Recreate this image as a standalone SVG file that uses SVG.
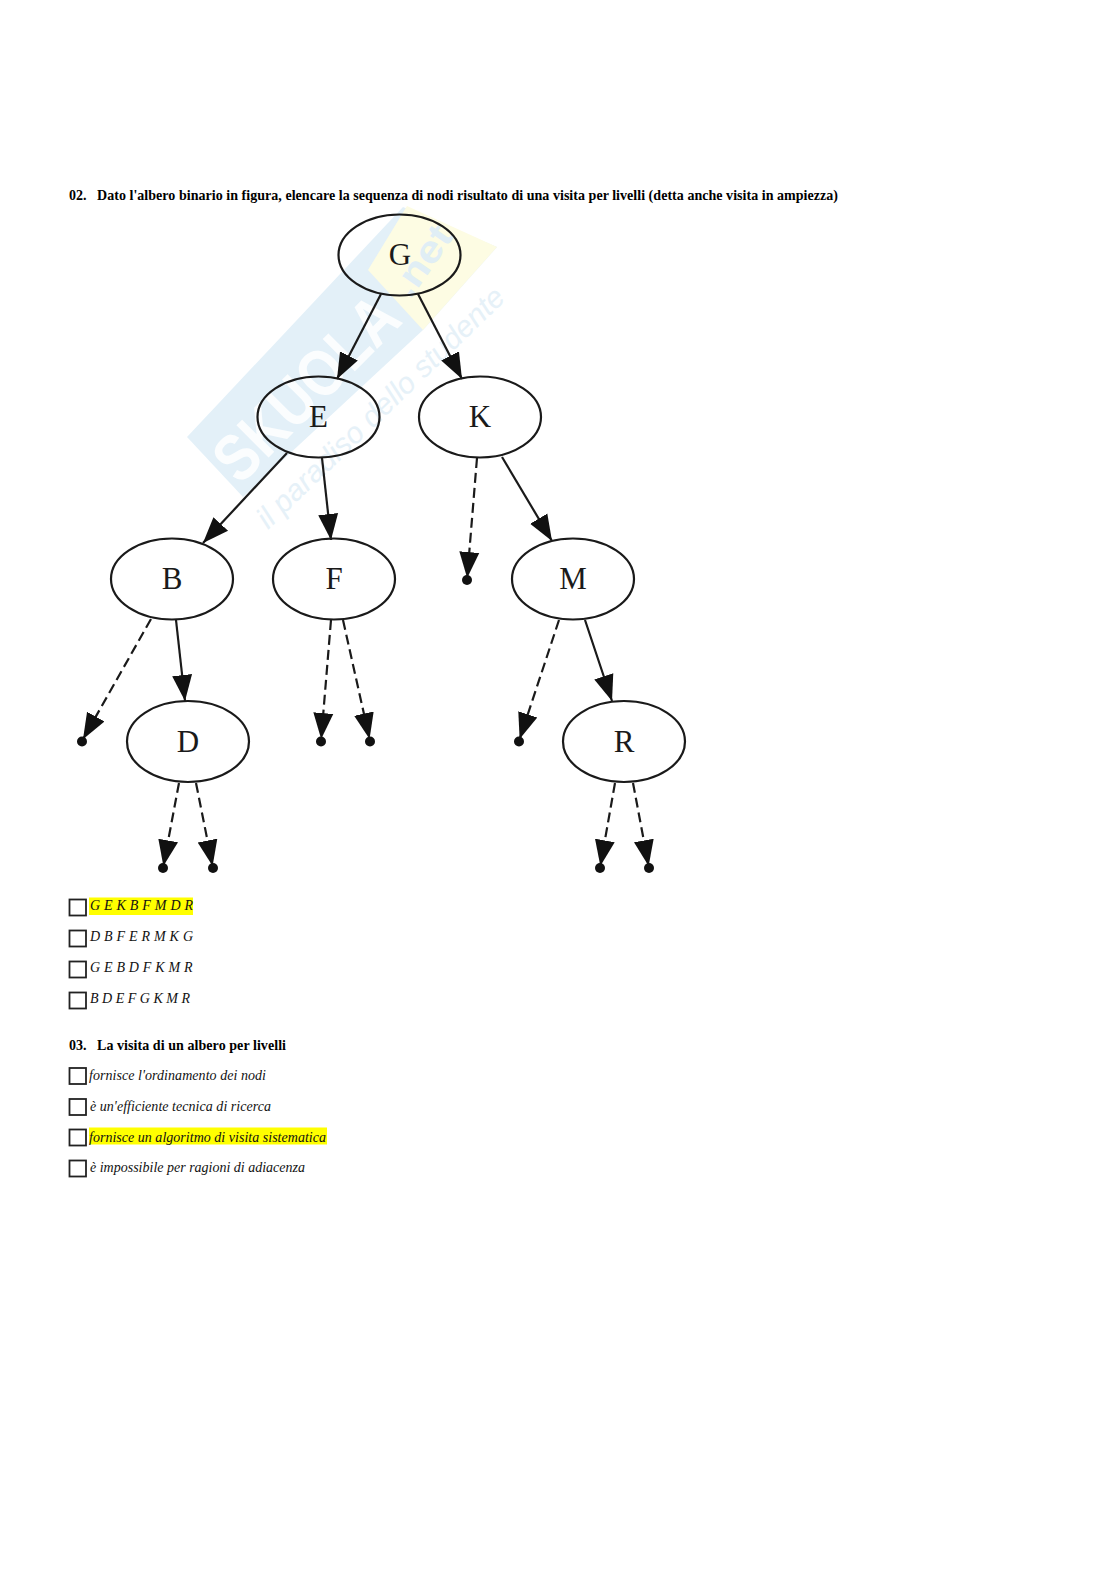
<svg xmlns="http://www.w3.org/2000/svg" width="1117" height="1579" viewBox="0 0 1117 1579">
<style>
.h{font:bold 14px "Liberation Serif",serif;fill:#000}
.o{font:italic 14px "Liberation Serif",serif;fill:#111}
.n{fill:none;stroke:#1a1a1a;stroke-width:2.200}
.l{font:31px "Liberation Serif",serif;fill:#1a1a1a;text-anchor:middle}
.e{stroke:#1a1a1a;stroke-width:2.200;fill:none;marker-end:url(#a)}
.d{stroke:#1a1a1a;stroke-width:2.200;fill:none;stroke-dasharray:10 5;marker-end:url(#b)}
.c{fill:none;stroke:#222;stroke-width:1.800}
.dot{fill:#111}
</style>
<defs>
<marker id="a" markerUnits="userSpaceOnUse" markerWidth="28" markerHeight="22" refX="26" refY="11" orient="auto"><path d="M0 1L26 11L0 21Z" fill="#111"/></marker>
<marker id="b" markerUnits="userSpaceOnUse" markerWidth="30" markerHeight="22" refX="28" refY="11" orient="auto"><path d="M0 1L26 11L0 21Z" fill="#111"/></marker>
</defs>
<rect width="1117" height="1579" fill="#fff"/>
<g id="watermark">
<path d="M187 437L403 207L497 247L423 330L243 497Z" fill="#e3f0f8"/>
<path d="M368 270L407 206L497 247L423 330Z" fill="#fdfce3"/>
<text transform="translate(240 486) rotate(-45)" font-family="Liberation Sans,sans-serif" font-weight="bold" font-size="66" fill="#fbfdfe" textLength="232" lengthAdjust="spacingAndGlyphs">SKUOLA</text>
<text transform="translate(410 300) rotate(-55)" font-family="Liberation Sans,sans-serif" font-weight="bold" font-size="38" fill="#e0eef5" textLength="78" lengthAdjust="spacingAndGlyphs">.net</text>
<text transform="translate(268 530) rotate(-44)" font-family="Liberation Sans,sans-serif" font-style="italic" font-size="30" fill="#e6f1f8" textLength="332">il paradiso dello studente</text>
</g>
<g id="question-02">
<text class="h" x="69" y="200">02.</text>
<text class="h" x="97" y="200" textLength="741">Dato l'albero binario in figura, elencare la sequenza di nodi risultato di una visita per livelli (detta anche visita in ampiezza)</text>
</g>
<g id="connectors">
<path class="e" d="M381 294L337 379"/>
<path class="e" d="M418 294L462 379"/>
<path class="e" d="M287 453L203 543"/>
<path class="e" d="M322 458L331 540"/>
<path class="e" d="M502 457L552 541"/>
<path class="e" d="M176 620L185 701"/>
<path class="e" d="M585 620L612 701"/>
<path class="d" d="M477 458L467 580"/>
<path class="d" d="M151 619L82 741"/>
<path class="d" d="M331 620L321 741"/>
<path class="d" d="M343 620L370 741"/>
<path class="d" d="M179 783L163 868"/>
<path class="d" d="M196 783L213 868"/>
<path class="d" d="M559 620L519 741"/>
<path class="d" d="M615 783L600 868"/>
<path class="d" d="M633 783L649 868"/>
</g>
<g id="node-G"><ellipse class="n" cx="399.500" cy="255" rx="61" ry="40.500"/><text class="l" x="400" y="265">G</text></g>
<g id="node-E"><ellipse class="n" cx="318.500" cy="417" rx="61" ry="40.500"/><text class="l" x="318.500" y="427">E</text></g>
<g id="node-K"><ellipse class="n" cx="480" cy="417" rx="61" ry="40.500"/><text class="l" x="480" y="427">K</text></g>
<g id="node-B"><ellipse class="n" cx="172" cy="579" rx="61" ry="40.500"/><text class="l" x="172" y="589">B</text></g>
<g id="node-F"><ellipse class="n" cx="334" cy="579" rx="61" ry="40.500"/><text class="l" x="334" y="589">F</text></g>
<g id="node-M"><ellipse class="n" cx="573" cy="579" rx="61" ry="40.500"/><text class="l" x="573" y="589">M</text></g>
<g id="node-D"><ellipse class="n" cx="188" cy="741.500" rx="61" ry="40.500"/><text class="l" x="188" y="752">D</text></g>
<g id="node-R"><ellipse class="n" cx="624" cy="741.500" rx="61" ry="40.500"/><text class="l" x="624" y="752">R</text></g>
<g id="leaves">
<circle class="dot" cx="467" cy="580" r="5"/><circle class="dot" cx="82" cy="741.500" r="5"/><circle class="dot" cx="321" cy="741.500" r="5"/><circle class="dot" cx="370" cy="741.500" r="5"/><circle class="dot" cx="163" cy="868" r="5"/><circle class="dot" cx="213" cy="868" r="5"/><circle class="dot" cx="519" cy="741.500" r="5"/><circle class="dot" cx="600" cy="868" r="5"/><circle class="dot" cx="649" cy="868" r="5"/>
</g>
<g id="answers-02">
<rect x="89" y="897.500" width="104" height="17.500" fill="#ffff00"/>
<rect class="c" x="69.500" y="899.500" width="16.500" height="16"/><text class="o" x="90" y="910" textLength="103">G E K B F M D R</text>
<rect class="c" x="69.500" y="930.500" width="16.500" height="16"/><text class="o" x="90" y="941" textLength="103">D B F E R M K G</text>
<rect class="c" x="69.500" y="961.500" width="16.500" height="16"/><text class="o" x="90" y="972" textLength="102.500">G E B D F K M R</text>
<rect class="c" x="69.500" y="992.500" width="16.500" height="16"/><text class="o" x="90" y="1002.500" textLength="100">B D E F G K M R</text>
</g>
<g id="question-03">
<text class="h" x="69" y="1050">03.</text>
<text class="h" x="97" y="1050" textLength="189">La visita di un albero per livelli</text>
<rect x="89" y="1127.500" width="238" height="17" fill="#ffff00"/>
<rect class="c" x="69.500" y="1068" width="16.500" height="16"/><text class="o" x="89" y="1079.500" textLength="177">fornisce l'ordinamento dei nodi</text>
<rect class="c" x="69.500" y="1099" width="16.500" height="16"/><text class="o" x="90" y="1110.500" textLength="181">è un'efficiente tecnica di ricerca</text>
<rect class="c" x="69.500" y="1129.500" width="16.500" height="16"/><text class="o" x="89" y="1141.500" textLength="237">fornisce un algoritmo di visita sistematica</text>
<rect class="c" x="69.500" y="1160.500" width="16.500" height="16"/><text class="o" x="90" y="1172" textLength="215">è impossibile per ragioni di adiacenza</text>
</g>
</svg>
